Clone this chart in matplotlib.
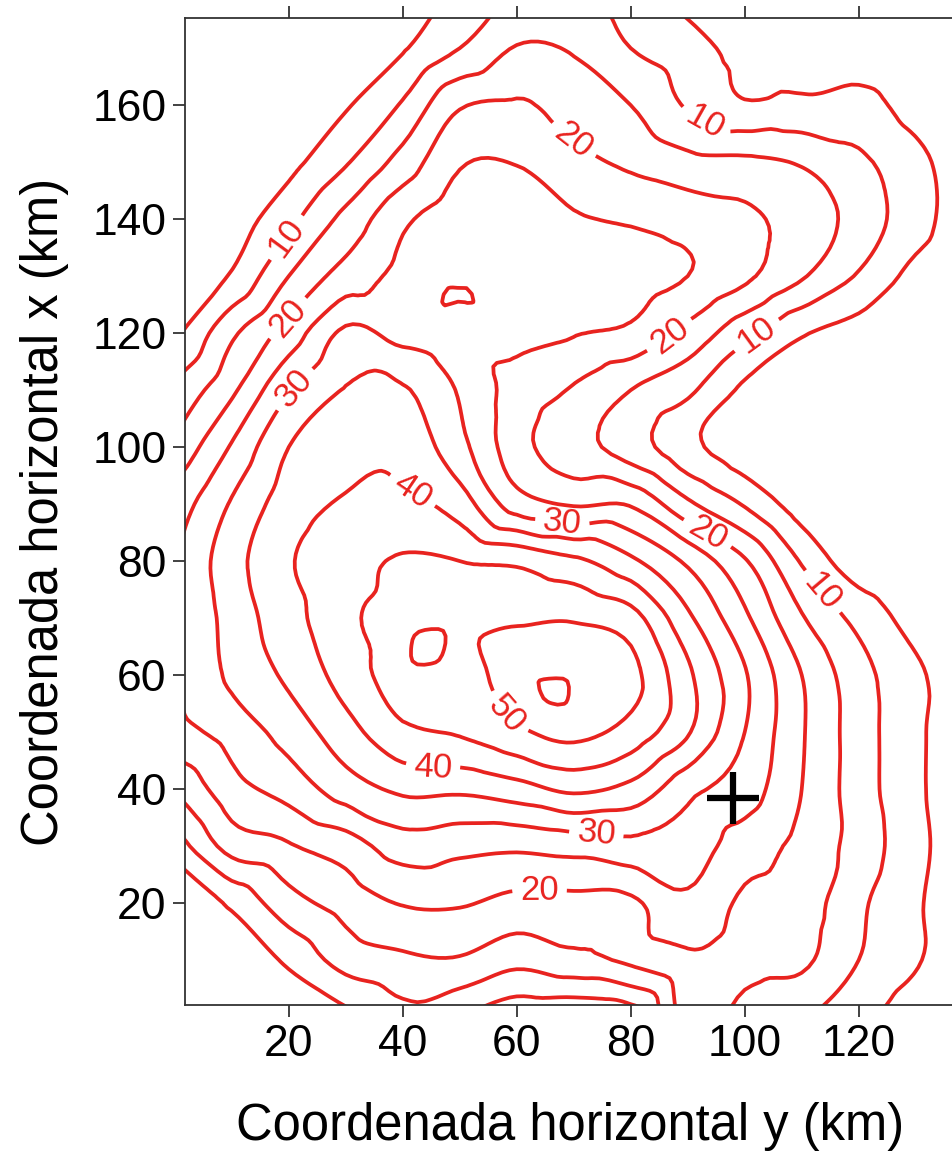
import numpy as np
import matplotlib
matplotlib.use("Agg")
import matplotlib.pyplot as plt
import matplotlib.tri as mtri

plt.rcParams['font.family'] = ['Liberation Sans', 'DejaVu Sans']

# grid (km), values estimated from the contour lines
grid_x = [0, 10, 20, 30, 40, 50, 60, 70, 80, 90, 100, 110, 120, 130, 140]
grid_y = [0, 10, 20, 30, 40, 50, 60, 70, 80, 90, 100, 110, 120, 130, 140, 150, 160, 170, 180]
field = [
    [-8, -5, 0, 3.5, 8, 5, 1, 0, 2, 17, 13, 10.5, 6.5, 2, 0],
    [-3, 0, 6, 12, 14, 14.5, 11.5, 13.5, 16, 19, 17, 16, 10, 5.5, 1],
    [-1.5, 6, 13, 17, 20.3, 20.5, 18.5, 18.5, 19, 24, 19, 17.5, 11, 5.7, 1],
    [7.5, 17, 19.5, 22.5, 27.5, 26.5, 26, 27, 28.5, 27.5, 22.5, 18.5, 13, 6.5, 1],
    [15.5, 23, 27, 32.5, 36, 36, 38, 41, 38.5, 31.5, 27.5, 20, 12.5, 6, 1],
    [23, 27, 32, 38, 44, 45.5, 49, 51.5, 48, 40.5, 30, 20.5, 12.5, 6, 1],
    [24.3, 31, 36, 42, 48, 47.5, 53, 54, 51.5, 41, 30.5, 20, 12, 6, 1],
    [24, 32, 38, 44, 47, 48.5, 49.3, 49.5, 47, 36, 26, 15.5, 8.5, 3, 0],
    [24.5, 33, 39.5, 43, 45.5, 45, 44, 41, 36, 29, 20.5, 9.5, 2, 0, -1],
    [22, 30.5, 37.5, 40.5, 41, 37.5, 27.5, 24.5, 24.5, 16, 9.5, 2.5, 0, -1, -1],
    [16, 25.5, 35, 38, 38.5, 31.5, 22, 17, 12.5, 6.5, 2, 0, -1, -1, -1],
    [11, 19, 29.5, 35.3, 35.5, 29.5, 23, 19.5, 15, 11, 4, 1, 0, 0, 0],
    [4, 14, 22, 31, 28.5, 27, 26.5, 25.3, 24, 18.5, 11.5, 5.5, 3, 1, 0],
    [1, 5.5, 15, 22, 26.5, 28, 27.5, 27, 27, 25, 21, 15.5, 9.5, 3.5, 0],
    [-2, 2.5, 8.5, 16.5, 24, 27.5, 27, 25.5, 24.5, 23, 21, 18, 13, 7, 1],
    [-4, 0, 3.5, 9.5, 17, 24.5, 24.8, 21.5, 19, 16.5, 16, 14.5, 11, 6.5, 1],
    [-5, -2, 1, 4.5, 10.6, 19.5, 20.6, 17.5, 15, 9.5, 5.5, 6, 6.5, 3, 0],
    [-7, -5, -2, 1, 4.5, 10, 15.3, 14.5, 10, 7, 3.5, 2.5, 2.5, 1.5, 0],
    [-9, -7, -5, -2, 1, 6, 10, 11, 7, 3, 1, 0, 0, 0, 0],
]

# small closed loops (local maxima)
peak_x = [43.4, 67.5, 49.5]
peak_y = [64.9, 57.5, 127.5]
peak_v = [51.5, 56.0, 30.25]

plain_levels = [5, 15, 25, 35, 45, 55]
label_levels = [10, 20, 30, 40, 50]
label_pos = [(20.2, 136.3), (19.6, 122.8), (20.2, 110.9), (93.5, 157.7),
             (69.3, 153.0), (87.2, 119.1), (100.0, 122.3), (41.8, 92.5),
             (68.0, 86.8), (93.3, 84.6), (112.3, 73.5), (59.6, 54.2),
             (45.3, 43.9), (74.0, 32.5), (64.0, 24.0)]

station_x = [97.9]
station_y = [38.4]

gx, gy = np.meshgrid(grid_x, grid_y)
xs = np.concatenate([gx.ravel(), peak_x])
ys = np.concatenate([gy.ravel(), peak_y])
zs = np.concatenate([np.array(field, dtype=float).ravel(), peak_v])

tri = mtri.Triangulation(xs, ys)
interp = mtri.CubicTriInterpolator(tri, zs, kind='geom')
tri_f, z_f = mtri.UniformTriRefiner(tri).refine_field(zs, triinterpolator=interp, subdiv=3)

fig = plt.figure(figsize=(9.52, 11.6), dpi=100)
ax = fig.add_axes([185 / 952, 1 - 1005 / 1160, (137 - 1.8) * 5.7 / 952, 987 / 1160])

red = '#e8231f'
ax.tricontour(tri_f, z_f, levels=plain_levels, colors=red, linewidths=2.7)
cs = ax.tricontour(tri_f, z_f, levels=label_levels, colors=red, linewidths=2.7)
ax.clabel(cs, manual=label_pos, fmt='%d', fontsize=25,
          inline=True, inline_spacing=7, colors=red)

ax.plot(station_x, station_y, marker='+', ms=38, mew=4.5, color='black', ls='none')

ax.set_xlim(1.8, 137)
ax.set_ylim(2.1, 175.3)
ax.set_xticks([20, 40, 60, 80, 100, 120])
ax.set_yticks([20, 40, 60, 80, 100, 120, 140, 160])
ax.tick_params(direction='out', length=8.5, width=1.3, labelsize=32, color='#333333',
               top=True, labeltop=False, pad=5)
for s in ax.spines.values():
    s.set_linewidth(1.3)
    s.set_color('#333333')

ax.set_xlabel("Coordenada horizontal y (km)", fontsize=36.5, labelpad=27)
ax.set_ylabel("Coordenada horizontal x (km)", fontsize=36.5, labelpad=17)

fig.savefig("out.png", dpi=100)
